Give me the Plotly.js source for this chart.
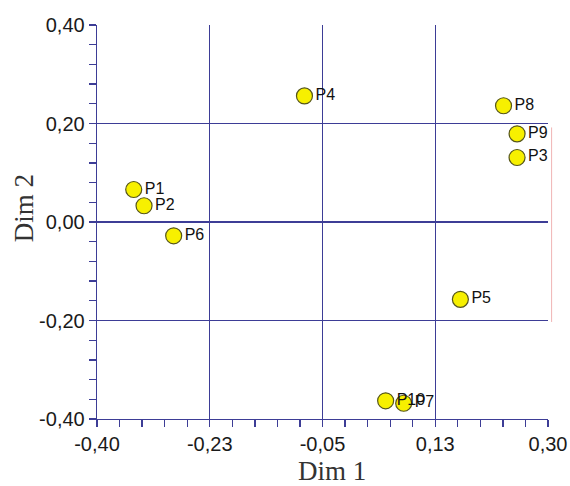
<!DOCTYPE html>
<html>
<head>
<meta charset="utf-8">
<script src="https://cdn.plot.ly/plotly-3.0.1.min.js"></script>
<style>html,body{margin:0;padding:0;background:#fff;}#chart{width:570px;height:486px;}</style>
</head>
<body>
<div id="chart"></div>
<script>
const labels = ["P1","P2","P3","P4","P5","P6","P7","P8","P9","P10"];
const dim1 = [-0.343, -0.327, 0.252, -0.078, 0.164, -0.281, 0.076, 0.231, 0.252, 0.048];
const dim2 = [0.066, 0.033, 0.131, 0.256, -0.157, -0.028, -0.368, 0.236, 0.179, -0.363];
const xTickVals = [-0.40, -0.225, -0.05, 0.125, 0.30];
const xTickText = ["-0,40", "-0,23", "-0,05", "0,13", "0,30"];
const yTickVals = [-0.40, -0.20, 0.00, 0.20, 0.40];
const yTickText = ["-0,40", "-0,20", "0,00", "0,20", "0,40"];
const xTitle = "Dim 1";
const yTitle = "Dim 2";

const navy = '#3d3d96';
const titleFont = {family: 'Liberation Serif, Times New Roman, serif', size: 27, color: '#333'};
const trace = {
  x: dim1, y: dim2, text: labels,
  type: 'scatter', mode: 'markers+text',
  textposition: 'middle right',
  textfont: {family: 'Liberation Sans, Arial, sans-serif', size: 16, color: '#111'},
  marker: {size: 16, color: '#f7f000', line: {color: '#55551a', width: 1.2}},
  cliponaxis: false,
  hoverinfo: 'x+y+text'
};
const layout = {
  width: 570, height: 486,
  margin: {l: 97, r: 22, t: 25, b: 67},
  paper_bgcolor: '#fff', plot_bgcolor: '#fff',
  showlegend: false,
  font: {family: 'Liberation Sans, Arial, sans-serif', color: '#1a1a1a'},
  xaxis: {
    range: [-0.40, 0.30], tickmode: 'array', tickvals: xTickVals, ticktext: xTickText,
    showline: true, linecolor: navy, linewidth: 1.3,
    showgrid: true, gridcolor: navy, gridwidth: 1.3, zeroline: false,
    ticks: 'outside', ticklen: 7, tickcolor: navy, tickwidth: 1.3,
    tickfont: {size: 20, color: '#1a1a1a'},
    minor: {tick0: -0.40, dtick: 0.035, ticks: 'outside', ticklen: 7, tickcolor: navy, tickwidth: 1.3, showgrid: false}
  },
  yaxis: {
    range: [-0.40, 0.40], tickmode: 'array', tickvals: yTickVals, ticktext: yTickText,
    showline: true, linecolor: navy, linewidth: 1.3,
    showgrid: true, gridcolor: navy, gridwidth: 1.3, zeroline: false,
    ticks: 'outside', ticklen: 7, tickcolor: navy, tickwidth: 1.3,
    tickfont: {size: 20, color: '#1a1a1a'},
    minor: {tick0: -0.40, dtick: 0.04, ticks: 'outside', ticklen: 7, tickcolor: navy, tickwidth: 1.3, showgrid: false}
  },
  annotations: [
    {text: xTitle, xref: 'paper', yref: 'paper', x: 0.522, y: -0.131, xanchor: 'center', yanchor: 'middle', showarrow: false, borderpad: 0, font: titleFont},
    {text: yTitle, xref: 'paper', yref: 'paper', x: -0.162, y: 0.535, xanchor: 'center', yanchor: 'middle', showarrow: false, textangle: -90, font: titleFont}
  ],
  shapes: [
    {type: 'line', xref: 'paper', yref: 'y', x0: 1.008, x1: 1.008, y0: 0.192, y1: -0.203,
     line: {color: '#f0b4b4', width: 1}}
  ]
};
Plotly.newPlot('chart', [trace], layout, {displayModeBar: false, staticPlot: true});
</script>
</body>
</html>
